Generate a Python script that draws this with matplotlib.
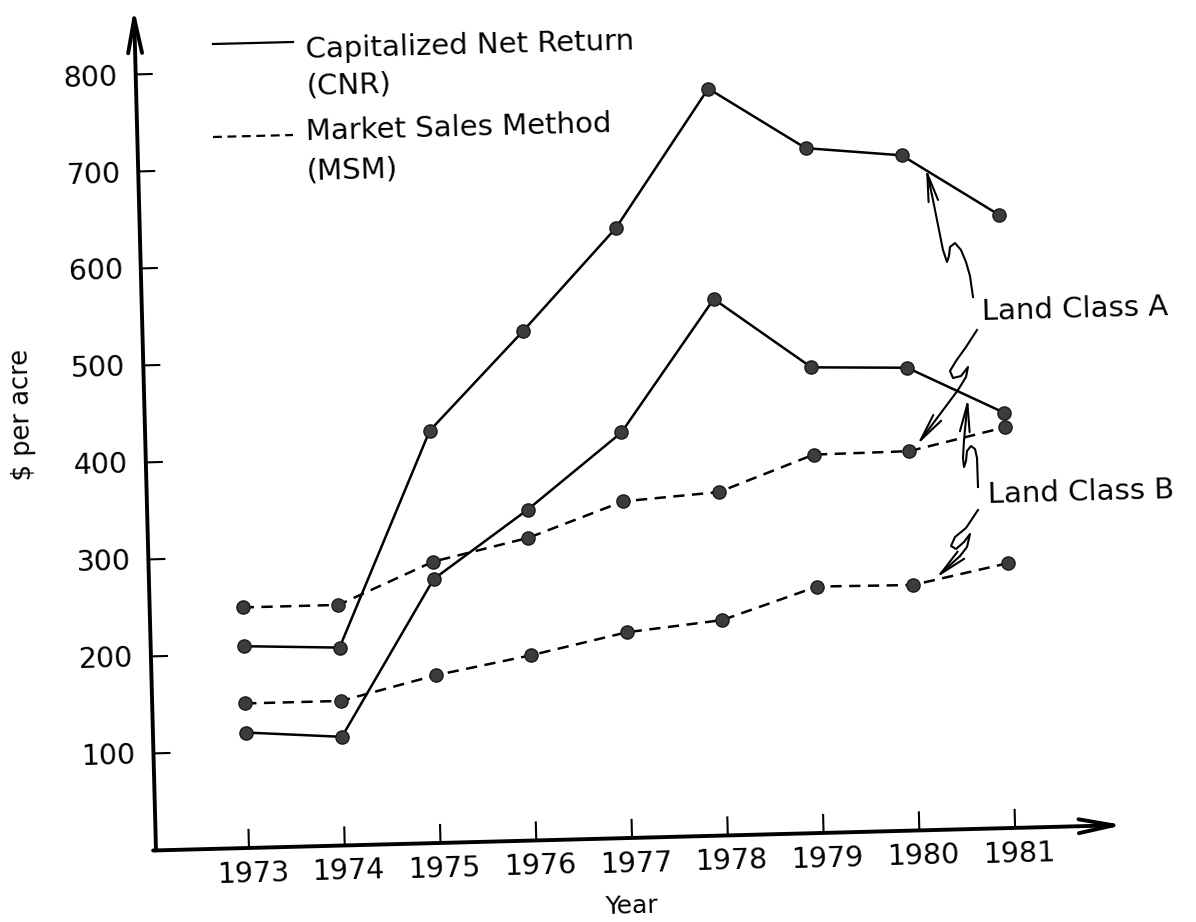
import matplotlib
matplotlib.use("Agg")
import matplotlib.pyplot as plt
from matplotlib.transforms import Affine2D
from matplotlib.patches import FancyArrowPatch

# Land value per acre
years = [1973, 1974, 1975, 1976, 1977, 1978, 1979, 1980, 1981]
cnr_class_a = [208, 204, 425, 525, 629, 770, 706, 696, 632]
cnr_class_b = [119, 112, 272, 341, 418, 553, 480, 477, 428]
msm_class_a = [248, 248, 290, 312, 347, 354, 390, 391, 413]
msm_class_b = [149, 149, 173, 191, 212, 222, 254, 253, 273]
y_ticks = [100, 200, 300, 400, 500, 600, 700, 800]

# Geometry of the scan (pixels); the page is tilted a little
W, H = 1196, 922
DPI = 100
ORIGIN = (156, 850.4)      # corner of the axes, image pixels
PX_YEAR = 95.8             # pixels per year
PX_UNIT = 0.9703           # pixels per dollar
FIRST_TICK = 93            # pixels from corner to 1973
TILT = 1.5                 # degrees, counter-clockwise

FONT = "DejaVu Sans"
plt.rcParams["font.family"] = [FONT]

fig = plt.figure(figsize=(W / DPI, H / DPI), dpi=DPI)
ax = fig.add_axes([0, 0, 1, 1])
ax.set_autoscale_on(False)
ax.axis("off")

x_left = years[0] - (ORIGIN[0] + FIRST_TICK) / PX_YEAR
ax.set_xlim(x_left, x_left + W / PX_YEAR)
ax.set_ylim(-(H - ORIGIN[1]) / PX_UNIT, ORIGIN[1] / PX_UNIT)

rot = Affine2D().rotate_deg_around(ORIGIN[0], H - ORIGIN[1], TILT)
tr = ax.transData + rot
pix = Affine2D().scale(1, -1).translate(0, H)   # image pixels -> display

x0 = x_left + ORIGIN[0] / PX_YEAR               # data x of the y axis


def arrow(p0, p1, transform, lw, hl=2.5, hw=0.5):
    a = FancyArrowPatch(p0, p1, transform=transform,
                        arrowstyle=f"->,head_length={hl},head_width={hw}",
                        mutation_scale=10, lw=lw, color="black",
                        shrinkA=0, shrinkB=0)
    ax.add_patch(a)


# axes with arrow heads
arrow((x0, 0), (x0, 868), tr, 2.8)
arrow((x0 - 0.03, 0), (1982.13, 0), tr, 2.8)

for v in y_ticks:
    ax.plot([x0, x0 + 16 / PX_YEAR], [v, v], color="black", lw=1.5, transform=tr)
    ax.text(x0 - 18 / PX_YEAR, v - 10.5, str(v), ha="right", va="baseline",
            rotation=TILT, rotation_mode="anchor", transform=tr, fontsize=20.5)

for yr in years:
    ax.plot([yr, yr], [0, 18 / PX_UNIT], color="black", lw=1.5, transform=tr)
    ax.text(yr + 0.04, -35, str(yr), ha="center", va="baseline",
            rotation=TILT, rotation_mode="anchor", transform=tr, fontsize=20.5)

# series
mk = dict(marker="o", ms=9.5, mfc="#3c3c3c", mec="#1a1a1a", mew=1.0, color="black")
ax.plot(years, cnr_class_a, "-", lw=1.8, transform=tr, **mk)
ax.plot(years, cnr_class_b, "-", lw=1.8, transform=tr, **mk)
ax.plot(years, msm_class_a, "--", lw=1.8, dashes=(4.5, 3), transform=tr, **mk)
ax.plot(years, msm_class_b, "--", lw=1.8, dashes=(4.5, 3), transform=tr, **mk)

# axis titles
ax.text(632, 913, "Year", ha="center", va="baseline", rotation=TILT,
        rotation_mode="anchor", transform=pix, fontsize=18)
ax.text(22, 415, "$ per acre", ha="center", va="center", rotation=90 + TILT,
        rotation_mode="anchor", transform=pix, fontsize=18.5)

# hand lettered legend
ax.plot([213, 293], [44, 42], color="black", lw=1.6, transform=pix)
ax.plot([213, 293], [137, 135], color="black", lw=1.6, dashes=(4, 2.5), transform=pix)
legend_lines = [("Capitalized Net Return", 58), ("(CNR)", 95),
                ("Market Sales Method", 140), ("(MSM)", 180)]
for txt, base in legend_lines:
    ax.text(306, base, txt, ha="left", va="baseline", rotation=TILT,
            rotation_mode="anchor", transform=pix, fontsize=21)

ax.text(982, 320, "Land Class A", ha="left", va="baseline", rotation=TILT,
        rotation_mode="anchor", transform=pix, fontsize=21)
ax.text(988, 503, "Land Class B", ha="left", va="baseline", rotation=TILT,
        rotation_mode="anchor", transform=pix, fontsize=21)

# squiggly leaders from the labels to the curves
leaders = [
    [(973, 297), (970, 276), (966, 262), (961, 250), (955, 243), (950, 247),
     (949, 256), (947, 262), (943, 250), (938, 225), (932, 195), (926, 168)],
    [(977, 330), (966, 347), (956, 361), (950, 371), (953, 378), (961, 376),
     (968, 367), (966, 377), (958, 390), (917, 445)],
    [(978, 487), (977, 458), (975, 449), (971, 446), (967, 451), (966, 461),
     (964, 467), (963, 458), (964, 440), (968, 398)],
    [(978, 510), (966, 528), (955, 537), (951, 546), (956, 549), (964, 542),
     (970, 534), (967, 547), (960, 556), (936, 578)],
]
for pts in leaders:
    xs = [p[0] for p in pts]
    ys = [p[1] for p in pts]
    ax.plot(xs[:-1], ys[:-1], color="black", lw=1.5, transform=pix)
    arrow(pts[-2], pts[-1], pix, 1.5, hl=2.0, hw=0.35)

fig.savefig("out.png", dpi=DPI, facecolor="white")
